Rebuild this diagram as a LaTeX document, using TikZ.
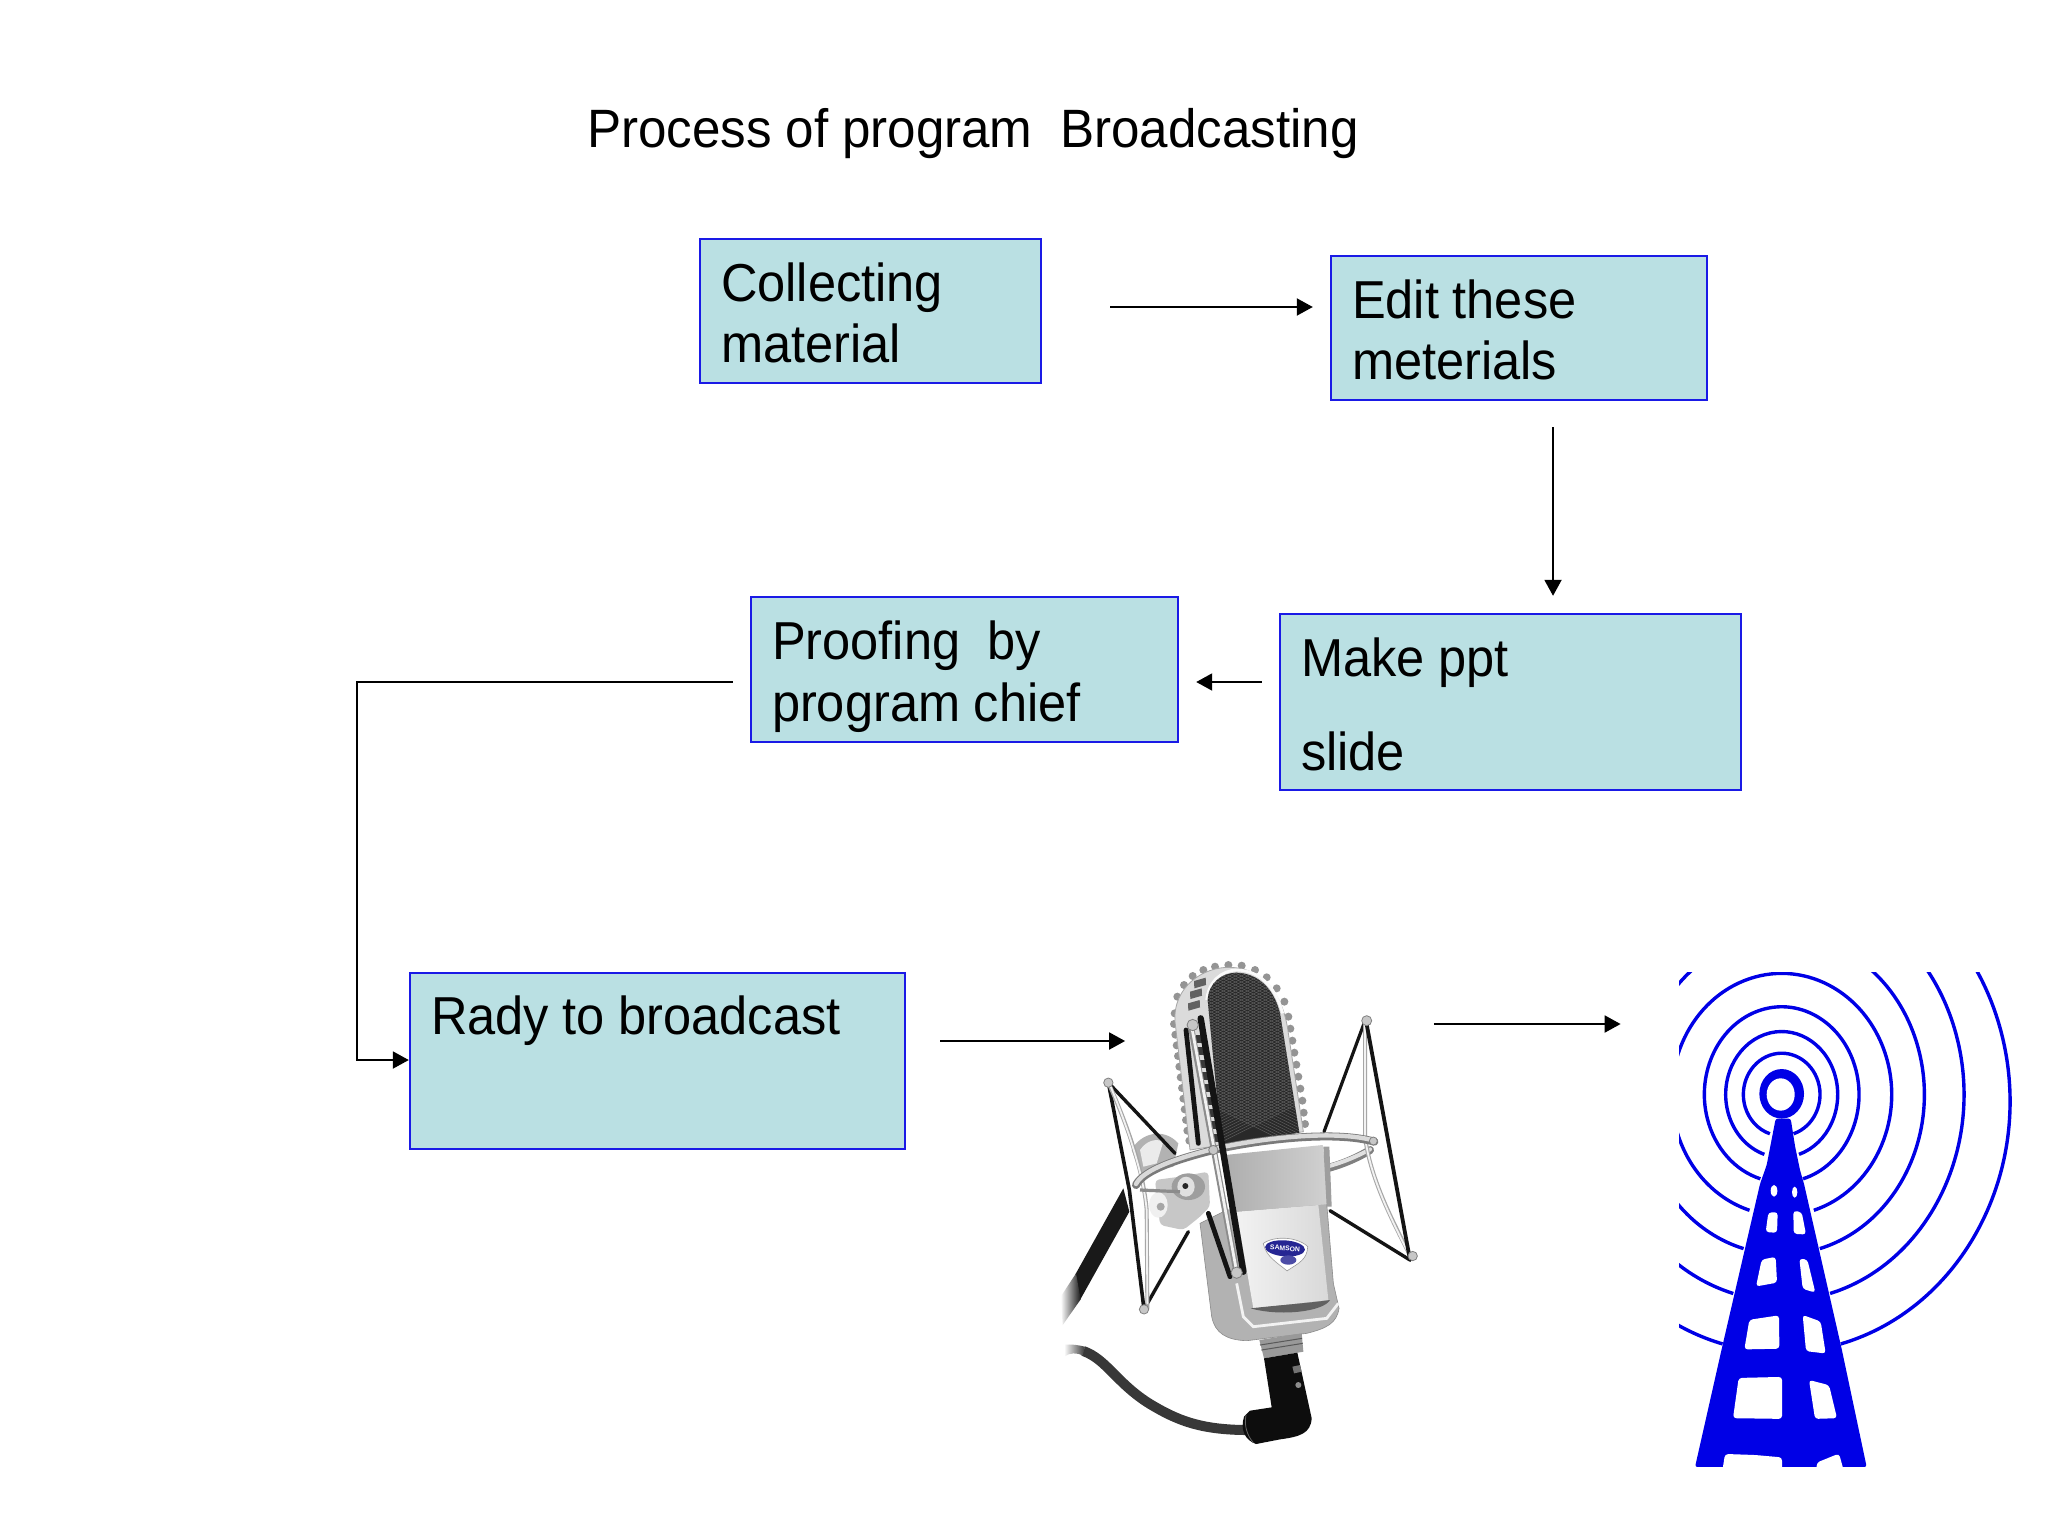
\documentclass[tikz,border=0pt]{standalone}
\usepackage{fontspec}
\setmainfont{Liberation Sans}
\newfontfamily\narrowsans[FakeStretch=0.947,WordSpace=0.97]{Liberation Sans}
\usetikzlibrary{arrows.meta}
\definecolor{boxfill}{HTML}{BAE0E3}
\definecolor{boxline}{HTML}{1A1AE6}
\definecolor{towerblue}{HTML}{0000E6}
\tikzset{
  boxnode/.style={draw=boxline,line width=1.2pt,fill=boxfill,inner xsep=10.5pt,inner ysep=0pt,align=flush left,
    font=\narrowsans\fontsize{26.7}{30.7}\selectfont,anchor=center,text height=0pt},
  flow/.style={line width=1pt,draw=black,-{Triangle[length=8pt,width=8.5pt]}},
  ghost/.style={inner sep=0pt,draw=none,fill=none},
  elastic/.style={draw=black!92,line cap=round},
  ball/.style={fill=black!22,draw=black!50,line width=.4pt},
  wave/.style={draw=towerblue,line width=1.7pt},
  hole/.style={fill=white,draw=none,rounded corners=1.6pt},
}
\begin{document}
\begin{tikzpicture}[x=0.5pt,y=-0.5pt]
\useasboundingbox (0,0) rectangle (2048,1536);
\fill[white] (0,0) rectangle (2048,1536);

\node[ghost,font=\narrowsans\fontsize{27}{32}\selectfont] (title) at (973,134) {Process of program\ \ Broadcasting};

\node[boxnode,text width=149.5pt,text depth=9.7pt,minimum height=72pt] (collect) at (870.5,311) {Collecting\\material};
\node[boxnode,text width=167pt,text depth=9.7pt,minimum height=72pt] (edit) at (1519,328) {Edit these\\meterials};
\node[boxnode,text width=209.5pt,text depth=25.4pt,minimum height=88pt] (make) at (1510.5,702) {Make ppt\\[16.2pt]slide};
\node[boxnode,text width=192.5pt,text depth=9.7pt,minimum height=72.5pt] (proof) at (964.5,669.5) {Proofing\ \ by\\program chief};
\node[boxnode,text width=226.5pt,text depth=27pt,minimum height=88pt] (rady) at (657.5,1061) {Rady to broadcast};

\node[ghost,minimum width=177.5pt,minimum height=245pt] (mic) at (1240,1206) {};
\node[ghost,minimum width=185pt,minimum height=240pt] (tower) at (1863,1212) {};
\coordinate (elbow) at (357,870);

\draw[flow] ([shift={(68,-4)}]collect.east) -- ([shift={(-17,-21)}]edit.west);
\draw[flow] ([shift={(34,26)}]edit.south) -- ([shift={(42.5,-17)}]make.north);
\draw[flow] ([shift={(-17,-20)}]make.west) -- ([shift={(17,12.5)}]proof.east);
\draw[flow] ([shift={(-17,12.5)}]proof.west) -| (elbow) |- ([shift={(0,-1)}]rady.west);
\draw[flow] ([shift={(34,-20)}]rady.east) -- ([shift={(63,-165)}]mic.west);
\draw[flow] ([shift={(16,-182)}]mic.east) -- ([shift={(-57,-188)}]tower.west);

% ---------- microphone (coordinates are 3x crop pixels) ----------
\begin{scope}[shift={(1040,950)},x=0.16667pt,y=-0.16667pt]
  % stand arm
  \fill[black!90] (105,975) -- (250,715) -- (268,785) -- (120,1050) -- cycle;
  \shade[left color=white,right color=black!90] (62,1040) -- (108,970) -- (122,1048) -- (68,1125) -- cycle;
  % cable
  \draw[black!78,line width=5pt] (130,1203) .. controls (200,1228) and (230,1300) .. (330,1362) .. controls (410,1410) and (480,1440) .. (625,1440);
  \shade[left color=white,right color=black!78] (72,1184) .. controls (95,1182) and (115,1185) .. (135,1190) -- (128,1216) .. controls (110,1208) and (90,1207) .. (72,1220) -- cycle;
  % back parts
  \draw[elastic,line width=1.6pt] (975,212) -- (852,545);
  \draw[black!50,line width=4pt,line cap=round] (860,655) .. controls (900,645) and (950,625) .. (990,600);
  \draw[black!12,line width=2pt,line cap=round] (860,650) .. controls (900,640) and (950,620) .. (990,598);
  % clamp ball
  \fill[black!30] (275,600) .. controls (300,550) and (370,530) .. (415,580) -- (400,650) -- (300,670) -- cycle;
  \fill[black!8] (300,600) .. controls (320,570) and (350,565) .. (370,575) -- (350,640) -- (310,650) -- cycle;
  % scallops
  \foreach \p in {(404,190),(402,222),(406,254),(410,286),(414,318),(418,350),(422,382),(426,414),(430,446),(434,478),(438,510),(442,542),(448,572),
                  (412,140),(432,105),(458,78),(490,60),(525,50),(565,45),(605,47),(645,60),(680,82),(710,115),(733,155),
                  (745,200),(751,236),(757,272),(763,308),(769,344),(775,380),(781,416),(787,452),(791,488),(795,522)} {
    \fill[black!42] \p circle[radius=12];
  }
  % head
  \fill[black!14,draw=black!35,line width=.4pt] (450,600) -- (405,215) .. controls (398,110) and (490,50) .. (570,52) .. controls (660,54) and (722,120) .. (742,230) -- (790,545) -- cycle;
  \draw[black!2,line width=1.4pt] (500,150) .. controls (505,95) and (545,60) .. (592,60) .. controls (655,62) and (705,105) .. (728,190);
  \begin{scope}
    \path[clip] (545,585) -- (503,150) .. controls (505,100) and (545,68) .. (590,68) .. controls (650,70) and (700,110) .. (720,190) -- (778,548) -- cycle;
    \fill[black!84] (480,50) rectangle (800,600);
    \foreach \k in {0,...,62} {
      \draw[black!62,line width=.2pt] (480,50+\k*9) -- (800,50+\k*9-160);
      \draw[black!62,line width=.2pt] (480,50+\k*9-160) -- (800,50+\k*9);
    }
  \end{scope}
  % slots
  \foreach \y/\xx in {93/462,125/450,160/444} {
    \fill[black!62] (\xx,\y) -- (\xx+35,\y-10) -- (\xx+36,\y+12) -- (\xx+1,\y+22) -- cycle;
  }
  \foreach \k in {0,...,8} {
    \fill[black!78] (468+\k*6,255+\k*37) rectangle (492+\k*6,279+\k*37);
  }
  % body
  \fill[black!30,draw=black!45,line width=.3pt] (480,820) -- (560,780) -- (860,760) -- (880,1000) -- (897,1075) .. controls (890,1120) and (860,1135) .. (800,1150) -- (620,1172) .. controls (560,1170) and (525,1150) .. (515,1100) -- cycle;
  \shade[left color=black!5,right color=black!15] (590,785) -- (835,765) -- (865,1050) -- (640,1075) -- cycle;
  \fill[black!62] (632,1075) .. controls (720,1065) and (800,1060) .. (870,1050) .. controls (850,1085) and (720,1100) .. (632,1075) -- cycle;
  \draw[black!5,line width=1.4pt] (590,1000) -- (610,1100) -- (640,1130) -- (860,1105) -- (895,1060);
  % band
  \shade[left color=black!32,right color=black!18] (555,615) -- (848,585) -- (868,762) -- (590,785) -- cycle;
  \fill[black!38] (850,590) -- (868,590) -- (875,770) -- (860,770) -- cycle;
  % connector and plug
  \fill[black!40] (658,1170) -- (785,1150) -- (790,1205) -- (672,1225) -- cycle;
  \draw[black!65,line width=.5pt] (660,1185) -- (786,1165);
  \draw[black!65,line width=.5pt] (664,1200) -- (788,1180);
  \fill[black!95] (672,1225) -- (772,1208) -- (815,1405) .. controls (812,1450) and (780,1460) .. (720,1468) -- (648,1482) .. controls (615,1470) and (600,1440) .. (612,1400) -- (630,1382) -- (695,1372) -- cycle;
  \draw[black!60,line width=.4pt] (618,1395) .. controls (612,1425) and (620,1455) .. (640,1478);
  \fill[black!55] (757,1250) -- (780,1245) -- (785,1265) -- (762,1270) -- cycle;
  \fill[black!45] (775,1305) circle[radius=9];
  % left spider
  \draw[elastic,line width=1.7pt] (205,398) -- (405,610);
  \draw[elastic,line width=1.8pt] (205,398) -- (268,720) -- (312,1078);
  \draw[elastic,line width=1.7pt] (312,1078) -- (445,845);
  \draw[draw=black!35,line width=2pt,line cap=round] (205,398) .. controls (260,520) and (310,660) .. (320,780) -- (322,1075);
  \draw[draw=black!5,line width=.9pt,line cap=round] (212,410) .. controls (262,530) and (310,670) .. (320,780) -- (322,1060);
  % right spider
  \draw[draw=black!35,line width=2pt,line cap=round] (975,212) -- (975,560) .. controls (990,680) and (1050,800) .. (1115,925);
  \draw[draw=black!5,line width=.9pt,line cap=round] (975,225) -- (975,560) .. controls (990,680) and (1050,800) .. (1108,915);
  \draw[elastic,line width=1.9pt] (978,212) -- (1110,930);
  \draw[elastic,line width=1.7pt] (1110,930) -- (870,782);
  % clamp
  \fill[black!22,rounded corners=2pt] (345,690) -- (420,680) -- (505,665) -- (510,770) -- (480,800) -- (430,840) -- (360,825) -- cycle;
  \fill[black!6] (355,765) ellipse[x radius=28,y radius=38];
  \fill[black!35] (362,770) circle[radius=12];
  \fill[black!38] (445,710) ellipse[x radius=50,y radius=40];
  \fill[black!12] (438,710) ellipse[x radius=26,y radius=30];
  \fill[black!85] (436,708) circle[radius=9];
  % ring
  \draw[black!52,line width=4pt,line cap=round] (1003,575) .. controls (880,540) and (650,570) .. (520,600) .. controls (420,625) and (310,660) .. (288,705);
  \draw[black!15,line width=2.2pt,line cap=round] (1003,572) .. controls (880,537) and (650,567) .. (520,597) .. controls (420,622) and (310,657) .. (288,702);
  \draw[black!45,line width=1.6pt] (300,720) -- (420,725);
  % front rods
  \draw[elastic,line width=2.4pt] (505,790) -- (570,980);
  \draw[draw=black!45,line width=3pt,line cap=round] (452,225) -- (590,970);
  \draw[draw=black!5,line width=1.4pt,line cap=round] (456,235) -- (588,955);
  \draw[elastic,line width=3.2pt] (482,205) -- (610,965);
  \draw[elastic,line width=2.4pt] (438,240) -- (475,580);
  % balls
  \fill[ball] (205,398) circle[radius=14];
  \fill[ball] (312,1078) circle[radius=14];
  \fill[ball] (980,212) circle[radius=15];
  \fill[ball] (1118,918) circle[radius=14];
  \fill[ball] (590,968) circle[radius=17];
  \fill[ball] (458,225) circle[radius=17];
  \fill[ball] (520,600) circle[radius=14];
  \fill[ball] (1000,573) circle[radius=12];
  % logo
  \fill[rotate around={-4:(735,905)},white,draw=black!40,line width=.3pt] (668,885) .. controls (700,858) and (770,858) .. (802,885) .. controls (802,925) and (780,935) .. (745,962) .. controls (715,940) and (680,925) .. (668,885) -- cycle;
  \fill[rotate around={-4:(735,895)},blue!50!black!85] (735,895) ellipse[x radius=60,y radius=24];
  \fill[blue!50!black!70] (745,930) ellipse[x radius=24,y radius=14];
  \node[ghost,rotate=-4,text=white,font=\bfseries\fontsize{3.4}{4}\selectfont] (logo) at (735,895) {SAMSON};
\end{scope}

% ---------- transmission tower (coordinates are 3x crop pixels, y stretched) ----------
\begin{scope}[shift={(1660,950)},x=0.16667pt,y=-0.172pt]
  \begin{scope}
    \path[clip] (57,65) rectangle (1164,1503);
    \foreach \rx/\ry/\cy/\t in {115/120/420/72,168/183/420/72,232/255/420/74,330/352/420/73,428/465/420/74.5,547/600/420/74.6,685/730/440/75} {
      \draw[wave] ({365+\rx*cos(\t)},{\cy+\ry*sin(\t)}) arc[start angle=\t,end angle={\t-360+2*(90-\t)},x radius=\rx,y radius=\ry];
    }
  \end{scope}
  \fill[towerblue,rounded corners=1.2pt] (105,1503) -- (185,1160) -- (300,680) -- (320,625) -- (333,560) -- (347,490) -- (392,490) -- (405,570) -- (420,640) -- (432,680) -- (545,1160) -- (620,1503) -- cycle;
  \fill[towerblue] (365,418) ellipse[x radius=67,y radius=72];
  \fill[white] (362,420) ellipse[x radius=42,y radius=47];
  \fill[white] (342,700) ellipse[x radius=10,y radius=17];
  \fill[white] (404,704) ellipse[x radius=8,y radius=16];
  \fill[hole] (325,763) -- (353,762) -- (351,822) -- (317,820) -- cycle;
  \fill[hole] (400,758) -- (425,762) -- (438,827) -- (401,825) -- cycle;
  \fill[hole] (305,900) -- (347,892) -- (351,967) -- (288,978) -- cycle;
  \fill[hole] (418,897) -- (442,900) -- (466,996) -- (428,985) -- cycle;
  \fill[hole] (268,1075) -- (357,1062) -- (358,1159) -- (253,1161) -- cycle;
  \fill[hole] (428,1061) -- (482,1080) -- (497,1173) -- (438,1166) -- cycle;
  \fill[hole] (236,1244) -- (366,1241) -- (366,1363) -- (219,1361) -- cycle;
  \fill[hole] (447,1250) -- (507,1265) -- (531,1361) -- (465,1363) -- cycle;
  \fill[hole] (195,1465) -- (285,1468) -- (366,1475) -- (366,1520) -- (186,1520) -- cycle;
  \fill[hole] (470,1490) -- (537,1464) -- (553,1520) -- (470,1520) -- cycle;
  \fill[white] (100,1504) rectangle (625,1525);
\end{scope}
\end{tikzpicture}
\end{document}
